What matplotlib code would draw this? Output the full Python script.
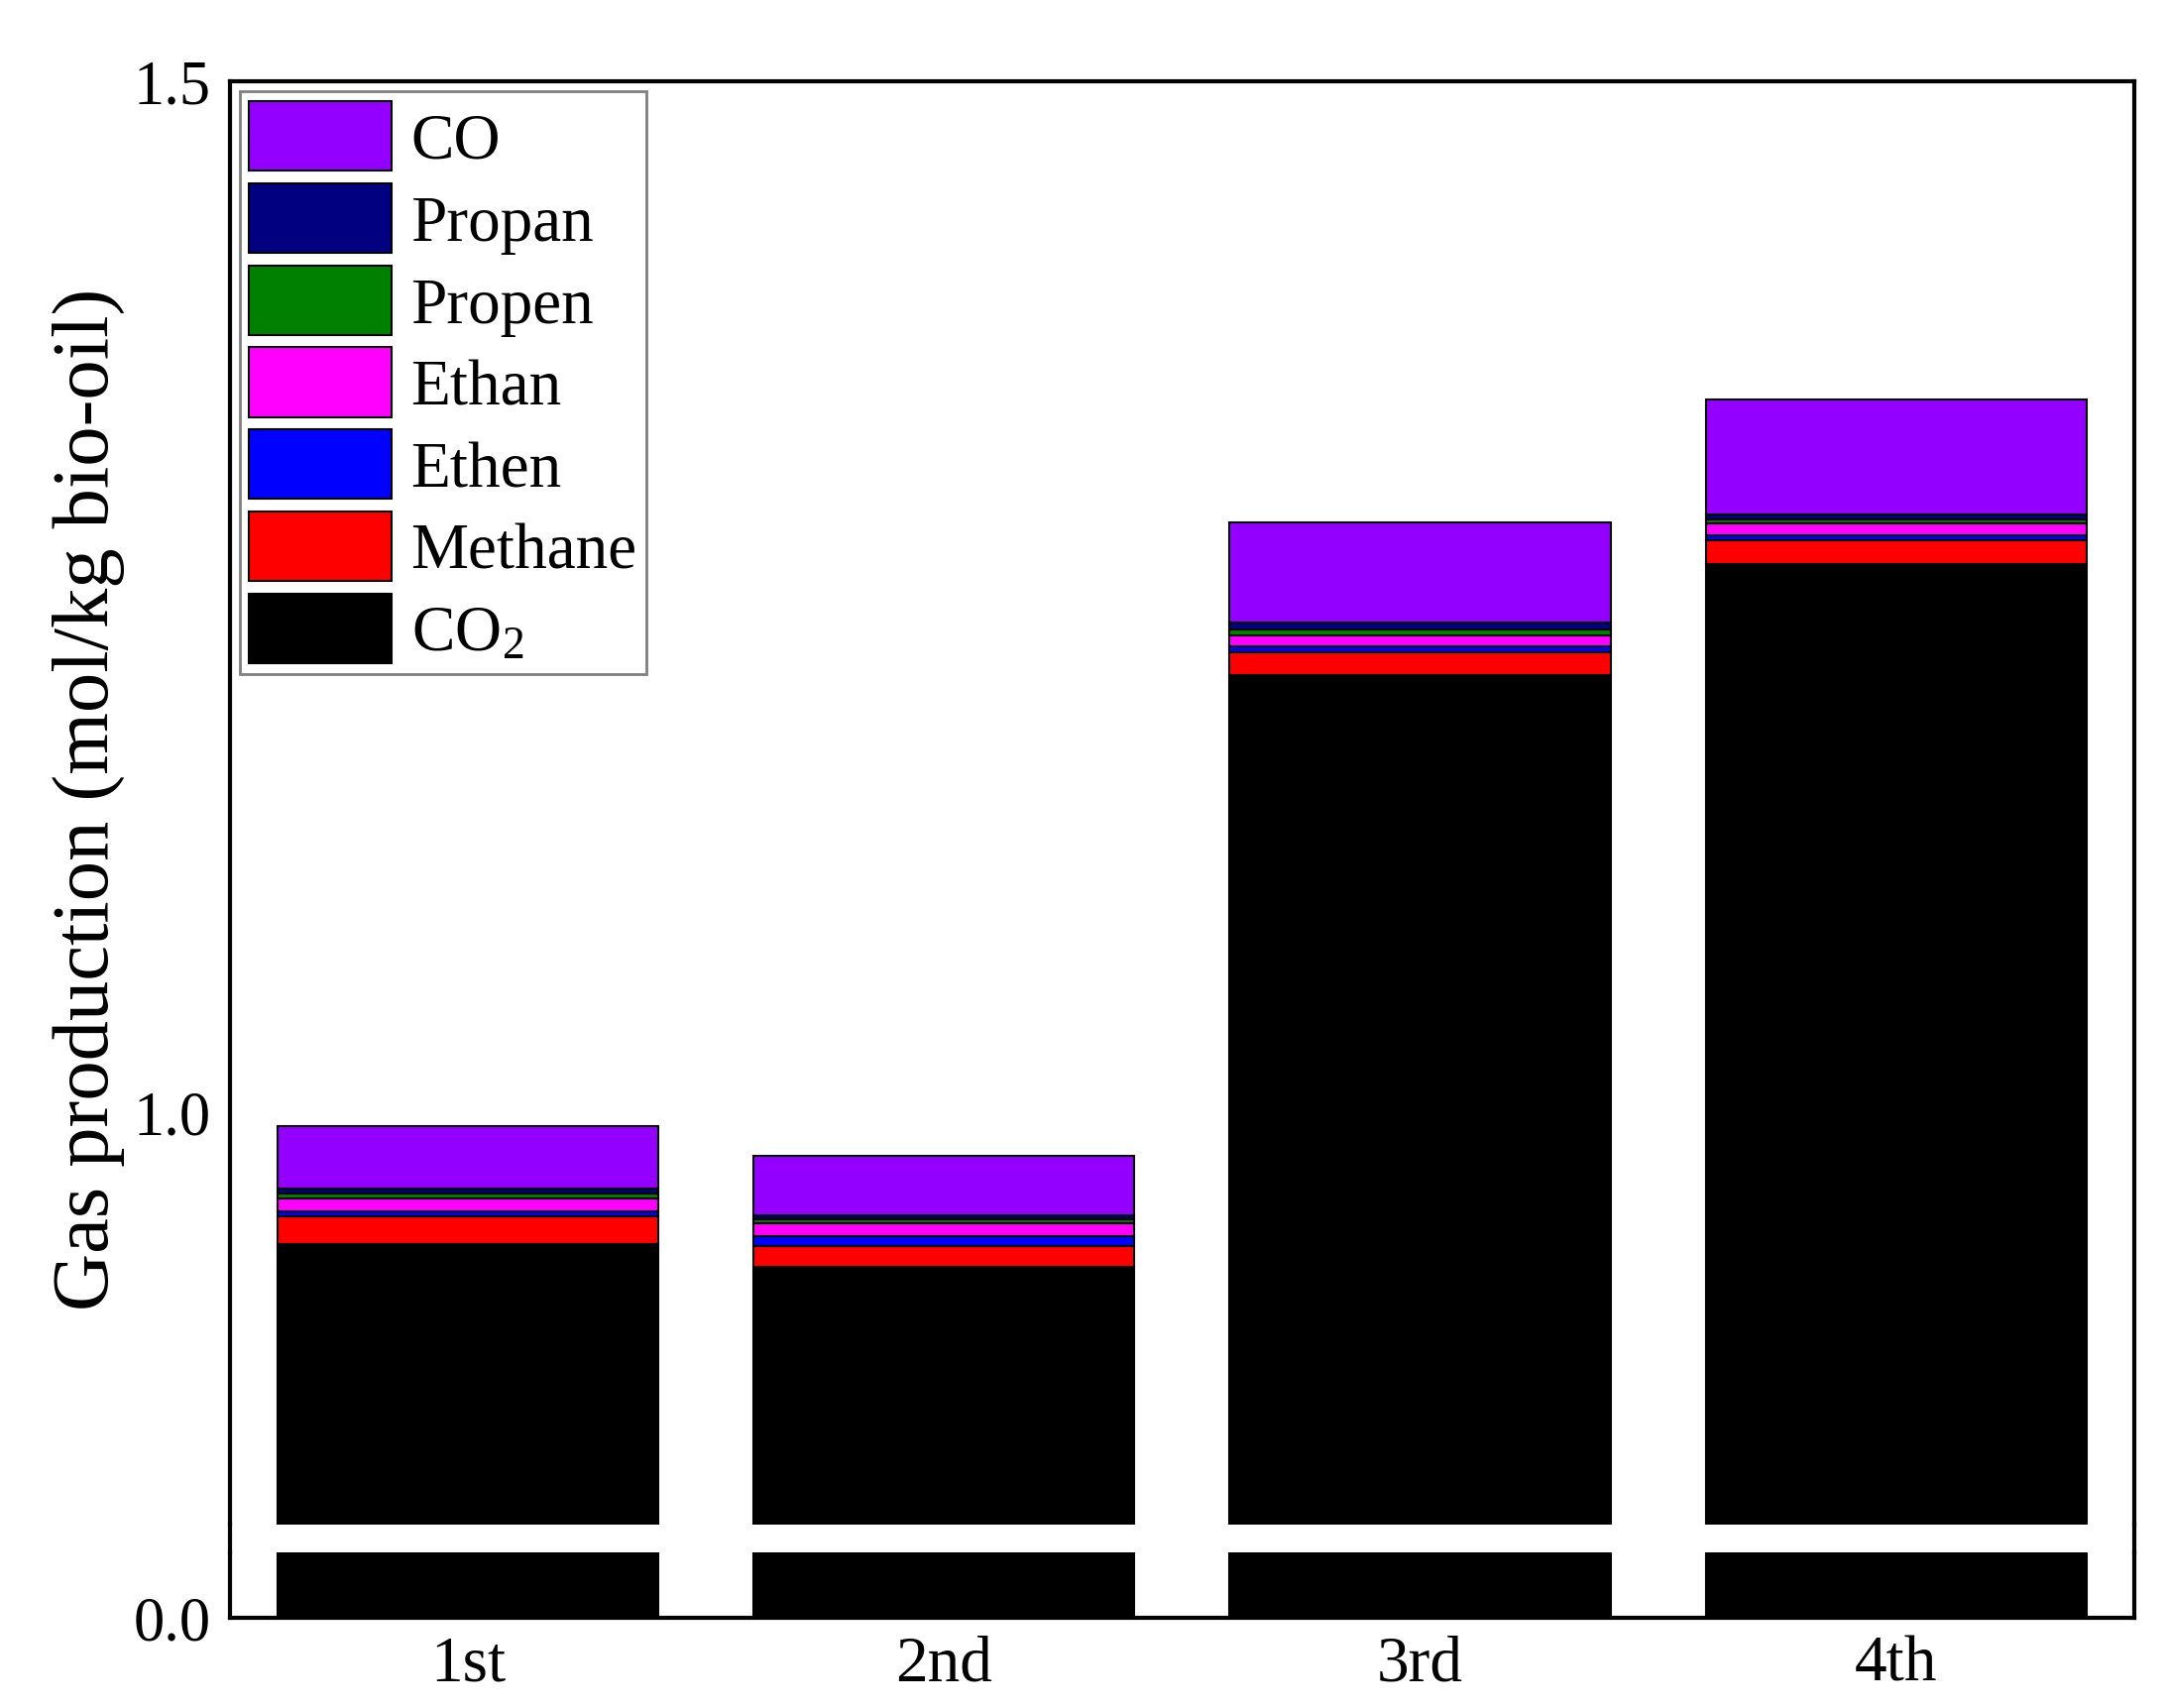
import matplotlib
matplotlib.use("Agg")
import matplotlib.pyplot as plt
from matplotlib.lines import Line2D
import numpy as np

plt.rcParams['font.family'] = ['Liberation Serif', 'DejaVu Serif']
plt.rcParams['mathtext.fontset'] = 'stix'

runs = ['1st', '2nd', '3rd', '4th']

# stacked from the bottom up
co2     = [0.936, 0.925, 1.212, 1.266]
methane = [0.0134, 0.010, 0.011, 0.0115]
ethen   = [0.0024, 0.005, 0.003, 0.0024]
ethan   = [0.0063, 0.006, 0.0053, 0.0058]
propen  = [0.0024, 0.002, 0.003, 0.002]
propan  = [0.0024, 0.002, 0.003, 0.002]
co      = [0.0303, 0.029, 0.0486, 0.056]

series = [
  (r'CO$_\mathregular{2}$', co2, '#000000'),
  ('Methane', methane, '#ff0000'),
  ('Ethen', ethen, '#0000ff'),
  ('Ethan', ethan, '#ff00ff'),
  ('Propen', propen, '#008000'),
  ('Propan', propan, '#000080'),
  ('CO', co, '#9400ff'),
]

FS = 47
fig = plt.figure(figsize=(21.88, 17.24), dpi=100)
L, R = 0.106, 0.984
ax_top = fig.add_axes([L, 0.1073, R - L, 0.9519 - 0.1073])
ax_bot = fig.add_axes([L, 0.0528, R - L, 0.0911 - 0.0528])

x = np.arange(len(runs))
handles = []
for ax in (ax_top, ax_bot):
  bottom = np.zeros(len(runs))
  for name, vals, col in series:
    b = ax.bar(x, vals, 0.8, bottom=bottom, color=col, edgecolor='black', linewidth=1.5, label=name)
    bottom += np.array(vals)
    if ax is ax_top:
      handles.append(b)
  ax.set_xlim(-0.5, 3.5)
  ax.tick_params(length=0, labelsize=FS, pad=12)
  ax.tick_params(axis='y', labelsize=45, pad=14)
  for s in ax.spines.values():
    s.set_linewidth(3)

ax_top.set_ylim(0.8, 1.5)
ax_top.set_yticks([1.0, 1.5])
ax_top.set_yticklabels(['1.0', '1.5'])
ax_top.set_xticks([])
ax_top.spines['bottom'].set_visible(False)

ax_bot.set_ylim(0, 0.1)
ax_bot.set_yticks([0.0])
ax_bot.set_yticklabels(['0.0'])
ax_bot.set_xticks(x)
ax_bot.set_xticklabels(runs)
ax_bot.spines['top'].set_visible(False)

# continue the side spines through the break
for xx in (L, R):
  fig.add_artist(Line2D([xx, xx], [0.0911, 0.1073], color='black', lw=3, transform=fig.transFigure))

fig.text(0.041, 0.532, 'Gas production (mol/kg bio-oil)', rotation=90, fontsize=58,
         ha='center', va='center')

leg = ax_top.legend(handles[::-1], [s[0] for s in series][::-1], loc='upper left',
                    bbox_to_anchor=(0.005, 0.993), borderaxespad=0, fontsize=FS,
                    handlelength=2.2, handleheight=1.28, labelspacing=0.18,
                    handletextpad=0.3, borderpad=0.15, fancybox=False, framealpha=1)
leg.get_frame().set_edgecolor('#808080')
leg.get_frame().set_linewidth(2)

fig.savefig('out.png', dpi=100)
